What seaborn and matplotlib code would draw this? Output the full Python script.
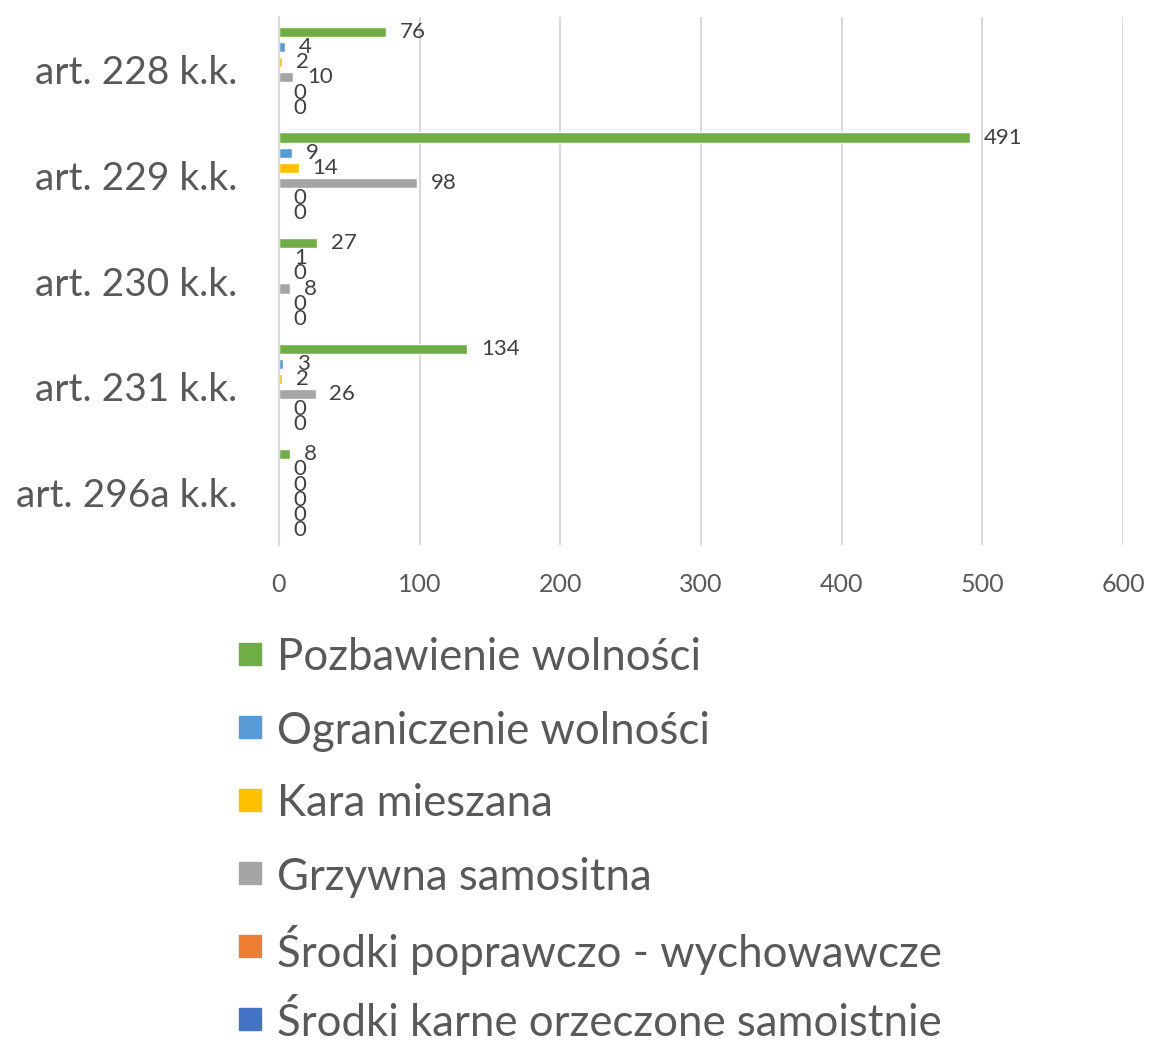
import pandas as pd
import matplotlib.pyplot as plt
import seaborn as sns
from matplotlib.patches import Rectangle

articles = ['art. 228 k.k.', 'art. 229 k.k.', 'art. 230 k.k.', 'art. 231 k.k.', 'art. 296a k.k.']
series = ['Pozbawienie wolności', 'Ograniczenie wolności', 'Kara mieszana',
          'Grzywna samositna', 'Środki poprawczo - wychowawcze',
          'Środki karne orzeczone samoistnie']
pozbawienie = [76, 491, 27, 134, 8]
ograniczenie = [4, 9, 1, 3, 0]
mieszana = [2, 14, 0, 2, 0]
grzywna = [10, 98, 8, 26, 0]
poprawcze = [0, 0, 0, 0, 0]
karne = [0, 0, 0, 0, 0]
colors = ['#70AD47', '#5B9BD5', '#FFC000', '#A5A5A5', '#ED7D31', '#4472C4']

values = [pozbawienie, ograniczenie, mieszana, grzywna, poprawcze, karne]
rows = []
for s, vals in zip(series, values):
    for a, v in zip(articles, vals):
        rows.append({'art': a, 'kara': s, 'liczba': v})
data = pd.DataFrame(rows)

sns.set_style('white')
plt.rcParams['font.family'] = ['Lato', 'DejaVu Sans']

W, H = 1149, 1042
fig = plt.figure(figsize=(W / 100, H / 100), dpi=100)
ax = fig.add_axes([279 / W, 1 - 545 / H, 844 / W, 528 / H])

sns.barplot(data=data, y='art', x='liczba', hue='kara', orient='h',
            palette=colors, width=0.86, gap=0.33, legend=False, ax=ax,
            saturation=1, errorbar=None)

for c in ax.containers:
    ax.bar_label(c, padding=10, fontsize=16, color='#404040')

ax.set_xlim(0, 600)
ax.set_xticks(range(0, 601, 100))
ax.set_xlabel('')
ax.set_ylabel('')
ax.grid(True, axis='x', color='#D9D9D9', linewidth=1.5)
ax.set_axisbelow(True)
for side in ['top', 'right', 'bottom']:
    ax.spines[side].set_visible(False)
ax.spines['left'].set_color('#D9D9D9')
ax.spines['left'].set_linewidth(1.5)

ax.set_yticks([-0.5, 0.5, 1.5, 2.5, 3.5, 4.5], minor=True)
ax.tick_params(axis='y', which='minor', length=10, color='#D9D9D9', width=1.5)
ax.tick_params(axis='y', which='major', length=0, pad=30, labelsize=28, labelcolor='#595959')
ax.tick_params(axis='x', length=0, pad=20, labelsize=18, labelcolor='#595959')

# legenda pod wykresem, jedna kolumna
for i, (s, c) in enumerate(zip(series, colors)):
    yc = 654 + i * 73
    fig.patches.append(Rectangle((239 / W, 1 - (yc + 11) / H), 22 / W, 22 / H,
                                 transform=fig.transFigure, color=c))
    fig.text(277 / W, 1 - yc / H, s, fontsize=31.5, color='#595959', va='center_baseline')

plt.savefig('out.png', dpi=100)
